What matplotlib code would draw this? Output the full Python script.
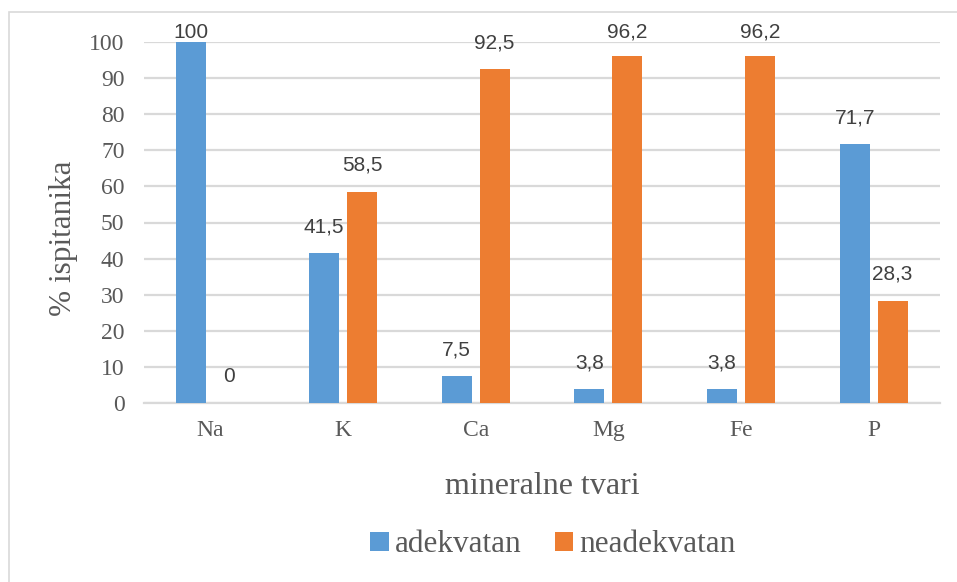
import numpy as np
import matplotlib
matplotlib.use("Agg")
import matplotlib.pyplot as plt
from matplotlib.patches import Rectangle

categories = ["Na", "K", "Ca", "Mg", "Fe", "P"]
adekvatan = [100, 41.5, 7.5, 3.8, 3.8, 71.7]
neadekvatan = [0, 58.5, 92.5, 96.2, 96.2, 28.3]
labels_adekvatan = ["100", "41,5", "7,5", "3,8", "3,8", "71,7"]
labels_neadekvatan = ["0", "58,5", "92,5", "96,2", "96,2", "28,3"]

BLUE = "#5B9BD5"
ORANGE = "#ED7D31"
GRAY = "#595959"
GRID = "#D9D9D9"

fig = plt.figure(figsize=(9.57, 5.82), dpi=100)
ax = fig.add_axes([144 / 957, 1 - 403 / 582, (940 - 144) / 957, (403 - 42) / 582])

# chart border
fig.patches.append(Rectangle((9 / 957, -0.1), 1.2, 1 - 12 / 582 + 0.1,
                             transform=fig.transFigure, fill=False,
                             edgecolor=GRID, lw=1.2))

x = np.arange(len(categories))
w = 0.226
off = 0.143
ax.bar(x - off, adekvatan, w, color=BLUE, label="adekvatan", zorder=3)
ax.bar(x + off, neadekvatan, w, color=ORANGE, label="neadekvatan", zorder=3)

for xi, v, t in zip(x - off, adekvatan, labels_adekvatan):
    ax.text(xi, min(v + 7.3, 102.7), t, ha="center", va="center",
            fontsize=15, color="#404040", family="Liberation Sans")
for xi, v, t in zip(x + off, neadekvatan, labels_neadekvatan):
    ax.text(xi, min(v + 7.3, 102.7), t, ha="center", va="center",
            fontsize=15, color="#404040", family="Liberation Sans")

ax.set_xlim(-0.5, len(categories) - 0.5)
ax.set_ylim(0, 100)
ax.set_yticks(range(0, 101, 10))
ax.set_xticks(x)
ax.set_xticklabels(categories)
ax.yaxis.grid(True, color=GRID, lw=1.6, zorder=0)
ax.set_axisbelow(True)
for s in ["top", "right", "left"]:
    ax.spines[s].set_visible(False)
ax.spines["bottom"].set_color(GRID)
ax.spines["bottom"].set_linewidth(1.6)
ax.tick_params(axis="both", length=0, labelcolor=GRAY, labelsize=17)
ax.tick_params(axis="y", pad=14)
ax.tick_params(axis="x", pad=12)
for lab in ax.get_xticklabels() + ax.get_yticklabels():
    lab.set_family("Liberation Serif")

fig.text(63 / 957, 1 - 238 / 582, "% ispitanika", rotation=90, ha="center",
         va="center", fontsize=22.5, color=GRAY, family="Liberation Serif")
fig.text(542 / 957, 1 - 487 / 582, "mineralne tvari", ha="center",
         va="center", fontsize=23, color=GRAY, family="Liberation Serif")

leg = fig.legend(loc="center", bbox_to_anchor=(553 / 957, 1 - 545 / 582),
                 ncol=2, frameon=False, handlelength=0.6, handleheight=0.6,
                 handletextpad=0.2, columnspacing=1.05,
                 prop={"family": "Liberation Serif", "size": 22.5})
for t in leg.get_texts():
    t.set_color(GRAY)

fig.savefig("out.png", dpi=100)
